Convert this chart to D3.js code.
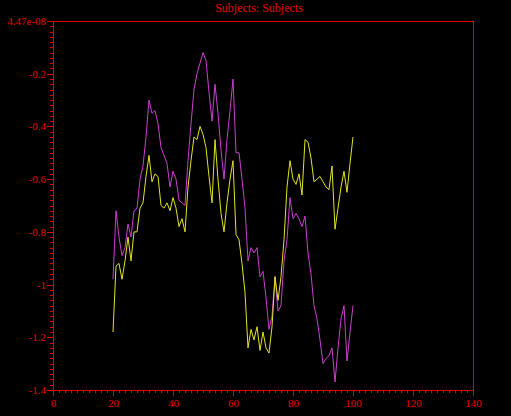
<!DOCTYPE html>
<html>
<head>
<meta charset="utf-8">
<script src="https://cdn.jsdelivr.net/npm/d3@7"></script>
<style>
    html, body { margin: 0; padding: 0; background: #000; }
    svg { display: block; }
</style>
</head>
<body>
<div id="chart"></div>
<script>
'use strict';

var xValues = d3.range(20, 101);

var magentaValues = [
    -0.98, -0.72, -0.82, -0.89, -0.86, -0.77, -0.82, -0.72, -0.71, -0.60,
    -0.55, -0.44, -0.30, -0.35, -0.34, -0.39, -0.48, -0.51, -0.54, -0.63,
    -0.57, -0.60, -0.68, -0.69, -0.70, -0.53, -0.39, -0.26, -0.20, -0.16,
    -0.12, -0.15, -0.27, -0.38, -0.24, -0.35, -0.49, -0.60, -0.45, -0.34,
    -0.22, -0.50, -0.50, -0.60, -0.71, -0.91, -0.86, -0.88, -0.86, -0.97,
    -0.95, -1.05, -1.17, -1.12, -0.97, -1.10, -1.08, -0.91, -0.83, -0.67,
    -0.75, -0.73, -0.75, -0.78, -0.74, -0.88, -0.96, -1.08, -1.13, -1.21,
    -1.30, -1.28, -1.27, -1.24, -1.37, -1.24, -1.13, -1.08, -1.29, -1.18,
    -1.08
];

var yellowValues = [
    -1.18, -0.93, -0.92, -0.98, -0.91, -0.82, -0.91, -0.80, -0.80, -0.71,
    -0.69, -0.59, -0.51, -0.61, -0.58, -0.59, -0.70, -0.71, -0.69, -0.72,
    -0.67, -0.71, -0.78, -0.75, -0.80, -0.63, -0.53, -0.44, -0.45, -0.40,
    -0.43, -0.48, -0.59, -0.69, -0.45, -0.60, -0.73, -0.80, -0.69, -0.60,
    -0.53, -0.81, -0.83, -0.92, -1.03, -1.24, -1.17, -1.21, -1.16, -1.25,
    -1.18, -1.24, -1.26, -1.16, -0.97, -1.06, -0.97, -0.83, -0.63, -0.53,
    -0.60, -0.62, -0.58, -0.66, -0.45, -0.46, -0.52, -0.61, -0.60, -0.59,
    -0.61, -0.63, -0.64, -0.55, -0.79, -0.71, -0.63, -0.57, -0.65, -0.54,
    -0.44
];

var xTicks = [0, 20, 40, 60, 80, 100, 120, 140];
var yTicks = [4.47e-08, -0.2, -0.4, -0.6, -0.8, -1, -1.2, -1.4];
var yTickLabels = ['4.47e-08', '-0.2', '-0.4', '-0.6', '-0.8', '-1', '-1.2', '-1.4'];

var chartTitle = 'Subjects: Subjects';

(function () {
    var width = 511;
    var height = 416;
    var plotLeft = 53, plotRight = 473, plotTop = 21, plotBottom = 390;
    var red = '#e80000';
    var font = '"Liberation Serif", "DejaVu Serif", serif';

    var svg = d3.select('#chart').append('svg')
        .attr('width', width)
        .attr('height', height)
        .style('background', '#000');

    var x = d3.scaleLinear().domain([0, 140]).range([plotLeft, plotRight]);
    var y = d3.scaleLinear().domain([-1.4, 4.47e-08]).range([plotBottom, plotTop]);

    // title sits right against the top edge
    svg.append('text')
        .attr('x', 259)
        .attr('y', 12)
        .attr('text-anchor', 'middle')
        .attr('font-family', font)
        .attr('font-size', '12px')
        .attr('fill', red)
        .text(chartTitle);

    // frame: top and right edges
    svg.append('path')
        .attr('d', 'M' + x(0) + ',' + y(4.47e-08) + 'H' + x(140) + 'V' + y(-1.4))
        .attr('fill', 'none')
        .attr('stroke', red)
        .attr('shape-rendering', 'crispEdges');

    // minor ticks
    svg.append('g')
        .attr('transform', 'translate(0,' + plotBottom + ')')
        .call(d3.axisBottom(x).tickValues(d3.range(0, 141, 2)).tickSize(3).tickSizeOuter(0).tickFormat(''));

    svg.append('g')
        .attr('transform', 'translate(' + plotLeft + ',0)')
        .call(d3.axisLeft(y).tickValues(d3.range(0, 71).map(function (i) { return -i * 0.02; }))
            .tickSize(3).tickSizeOuter(0).tickFormat(''));

    // major ticks and labels
    svg.append('g')
        .attr('transform', 'translate(0,' + plotBottom + ')')
        .call(d3.axisBottom(x).tickValues(xTicks).tickSize(6).tickSizeOuter(0).tickPadding(3)
            .tickFormat(d3.format('d')));

    svg.append('g')
        .attr('transform', 'translate(' + plotLeft + ',0)')
        .call(d3.axisLeft(y).tickValues(yTicks).tickSize(6).tickSizeOuter(0).tickPadding(1)
            .tickFormat(function (d, i) { return yTickLabels[i]; }));

    svg.selectAll('.domain, .tick line')
        .attr('stroke', red)
        .attr('shape-rendering', 'crispEdges');

    svg.selectAll('.tick text')
        .attr('fill', red)
        .attr('font-family', font)
        .attr('font-size', '11px');

    var line = d3.line()
        .x(function (d, i) { return x(xValues[i]); })
        .y(function (d) { return y(d); });

    svg.append('path')
        .datum(magentaValues)
        .attr('fill', 'none')
        .attr('stroke', '#cc3fd0')
        .attr('stroke-width', 1)
        .attr('d', line);

    svg.append('path')
        .datum(yellowValues)
        .attr('fill', 'none')
        .attr('stroke', '#e4e420')
        .attr('stroke-width', 1)
        .attr('d', line);
})();
</script>
</body>
</html>
